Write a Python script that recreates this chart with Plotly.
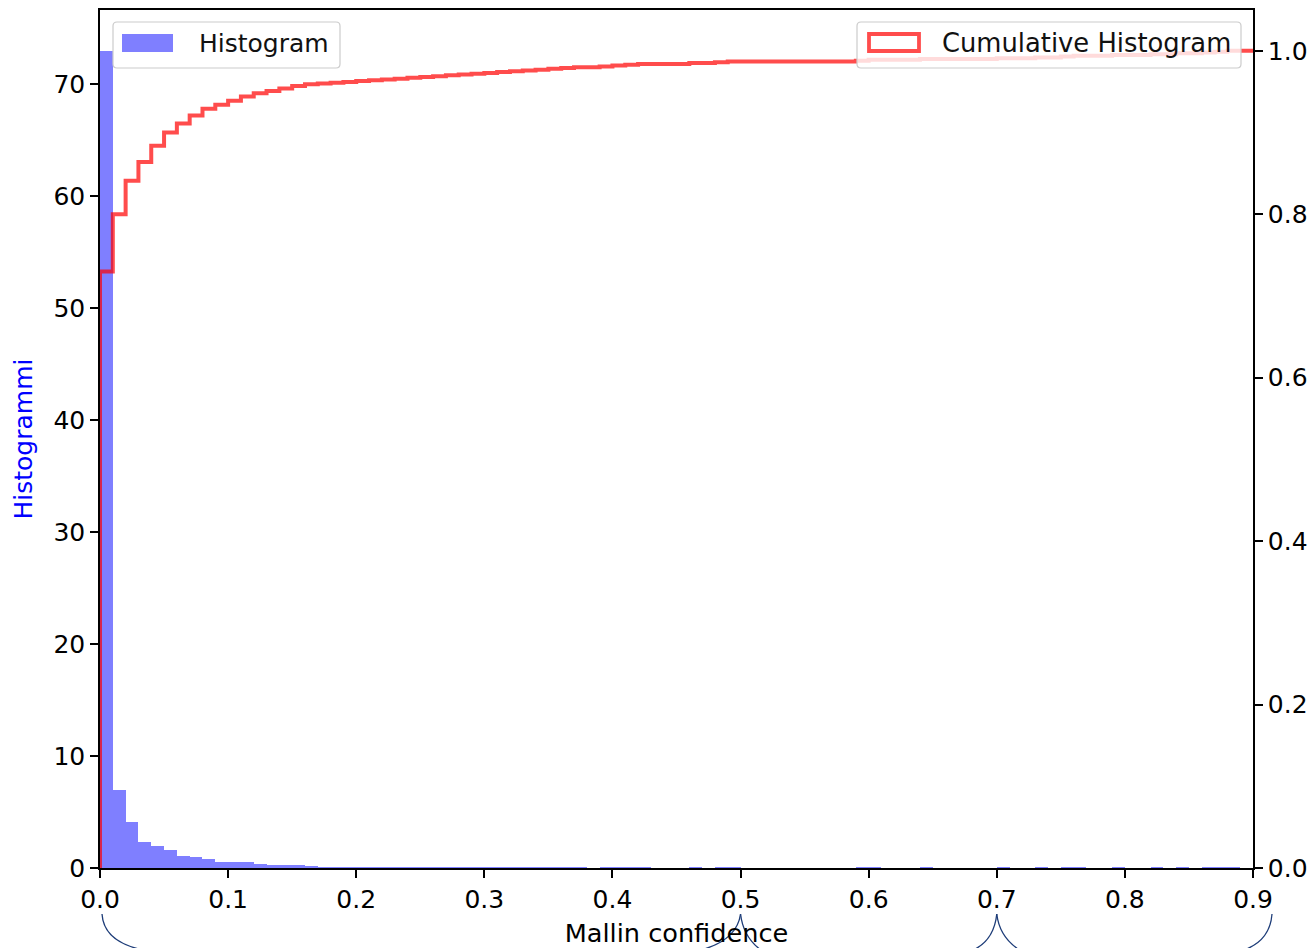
import numpy as np
import plotly.graph_objects as go

# 90 bins of width 0.01 covering 0.0 - 0.9
bin_edges = np.linspace(0.0, 0.9, 91)

# density-normalised histogram height of each bin
density = [
    73.0, 7.0, 4.1, 2.3, 2.0, 1.6, 1.1, 1.0, 0.8, 0.5,   # 0.00 - 0.09
    0.5, 0.5, 0.4, 0.3, 0.3, 0.3, 0.2, 0.1, 0.1, 0.1,    # 0.10 - 0.19
    0.1, 0.1, 0.1, 0.1, 0.1, 0.1, 0.1, 0.1, 0.1, 0.1,    # 0.20 - 0.29
    0.1, 0.1, 0.1, 0.1, 0.1, 0.1, 0.1, 0.1, 0.0, 0.1,    # 0.30 - 0.39
    0.1, 0.1, 0.1, 0.0, 0.0, 0.0, 0.1, 0.0, 0.1, 0.1,    # 0.40 - 0.49
    0.0, 0.0, 0.0, 0.0, 0.0, 0.0, 0.0, 0.0, 0.0, 0.1,    # 0.50 - 0.59
    0.1, 0.0, 0.0, 0.0, 0.1, 0.0, 0.0, 0.0, 0.0, 0.0,    # 0.60 - 0.69
    0.1, 0.0, 0.0, 0.1, 0.0, 0.1, 0.1, 0.0, 0.0, 0.1,    # 0.70 - 0.79
    0.0, 0.0, 0.1, 0.0, 0.1, 0.0, 0.1, 0.1, 0.1, 0.0,    # 0.80 - 0.89
]

x_ticks = [0.0, 0.1, 0.2, 0.3, 0.4, 0.5, 0.6, 0.7, 0.8, 0.9]
left_ticks = [0, 10, 20, 30, 40, 50, 60, 70]
right_ticks = [0.0, 0.2, 0.4, 0.6, 0.8, 1.0]
brace_points = [0.0, 0.5, 0.7, 0.9]

x_label = "Mallin confidence"
y_label = "Histogrammi"
hist_name = "Histogram"
cum_name = "Cumulative Histogram"

widths = np.diff(bin_edges)
centers = bin_edges[:-1] + widths / 2
cumulative = np.cumsum(density) * widths

FONT = "DejaVu Sans"
FS = 25
X_RANGE = [bin_edges[0], bin_edges[-1]]
Y_RANGE = [0, max(density) * 1.05]
Y2_RANGE = [0, cumulative[-1] * 1.05]

fig = go.Figure()

fig.add_trace(go.Bar(
    x=centers, y=density, width=widths,
    marker=dict(color="rgba(0,0,255,0.5)", line=dict(width=0)),
    name=hist_name, showlegend=False, yaxis="y",
))

# step outline of the cumulative histogram
step_x = np.concatenate([[bin_edges[0]], bin_edges[:-1], [bin_edges[-1]]])
step_y = np.concatenate([[0.0], cumulative, [cumulative[-1]]])
fig.add_trace(go.Scatter(
    x=step_x, y=step_y, mode="lines", line_shape="hv",
    line=dict(color="rgba(255,0,0,0.7)", width=4),
    name=cum_name, showlegend=False, yaxis="y2",
))


def rounded_box(x0, y0, x1, y1, r):
    return (f"M {x0 + r},{y1} L {x1 - r},{y1} Q {x1},{y1} {x1},{y1 - r} "
            f"L {x1},{y0 + r} Q {x1},{y0} {x1 - r},{y0} L {x0 + r},{y0} "
            f"Q {x0},{y0} {x0},{y0 + r} L {x0},{y1 - r} Q {x0},{y1} {x0 + r},{y1} Z")


def px_shape(path, xanchor, yanchor, **style):
    return dict(type="path", path=path, xref="paper", yref="paper",
                xsizemode="pixel", ysizemode="pixel",
                xanchor=xanchor, yanchor=yanchor, layer="above", **style)


shapes = []
# legend frames (upper left and upper right of the axes)
shapes.append(px_shape(rounded_box(13, -58, 240, -12, 4), 0, 1,
                       fillcolor="rgba(255,255,255,0.8)",
                       line=dict(color="#cccccc", width=1.2)))
shapes.append(px_shape("M 22,-24 L 73,-24 L 73,-42 L 22,-42 Z", 0, 1,
                       fillcolor="rgba(0,0,255,0.5)", line=dict(width=0)))
shapes.append(px_shape(rounded_box(-396, -58, -12, -12, 4), 1, 1,
                       fillcolor="rgba(255,255,255,0.8)",
                       line=dict(color="#cccccc", width=1.2)))
shapes.append(px_shape("M -384,-24 L -334,-24 L -334,-41 L -384,-41 Z", 1, 1,
                       fillcolor="rgba(0,0,0,0)",
                       line=dict(color="rgba(255,0,0,0.7)", width=3.8)))

# bracket ends drawn below the x axis
brace_paths = [
    ["M 2,-46 Q 4,-78 56,-84"],
    ["M 0,-46 Q -4,-74 -44,-83", "M 0,-46 Q 3,-72 25,-85"],
    ["M 0,-46 Q -3,-74 -26,-83", "M 0,-46 Q 3,-72 28,-85"],
    ["M 19,-46 Q 17,-74 -12,-83"],
]
for b, paths in zip(brace_points, brace_paths):
    xa = (b - X_RANGE[0]) / (X_RANGE[1] - X_RANGE[0])
    for p in paths:
        shapes.append(px_shape(p, xa, 0, line=dict(color="#1d3c78", width=1.3)))

annotations = [
    dict(text=hist_name, xref="paper", yref="paper", x=0, y=1,
         xshift=97, yshift=-33, xanchor="left", yanchor="middle",
         showarrow=False, font=dict(family=FONT, size=FS, color="#111")),
    dict(text=cum_name, xref="paper", yref="paper", x=1, y=1,
         xshift=-313, yshift=-33, xanchor="left", yanchor="middle",
         showarrow=False, font=dict(family=FONT, size=25.8, color="#111")),
]

axis_common = dict(
    showgrid=False, zeroline=False, showline=True, linecolor="black",
    linewidth=1.6, ticks="outside", ticklen=8, tickwidth=1.6,
    tickcolor="black", tickfont=dict(family=FONT, size=FS, color="black"),
    automargin=False,
)

fig.update_layout(
    width=1314, height=948,
    margin=dict(l=100, r=61, t=10, b=80, autoexpand=False),
    paper_bgcolor="white", plot_bgcolor="white",
    bargap=0, showlegend=False,
    font=dict(family=FONT, size=FS, color="black"),
    xaxis=dict(range=X_RANGE, tickvals=x_ticks,
               ticktext=[f"{v:.1f}" for v in x_ticks], mirror=True,
               title=dict(text=x_label, standoff=14,
                          font=dict(family=FONT, size=25.6, color="black")),
               **axis_common),
    yaxis=dict(range=Y_RANGE, tickvals=left_ticks, mirror=True,
               title=dict(text=y_label, standoff=14,
                          font=dict(family=FONT, size=FS, color="blue")),
               **axis_common),
    yaxis2=dict(range=Y2_RANGE, overlaying="y", side="right",
                tickvals=right_ticks,
                ticktext=[f"{v:.1f}" for v in right_ticks],
                **axis_common),
    shapes=shapes,
    annotations=annotations,
)

fig.write_html("out.html")
